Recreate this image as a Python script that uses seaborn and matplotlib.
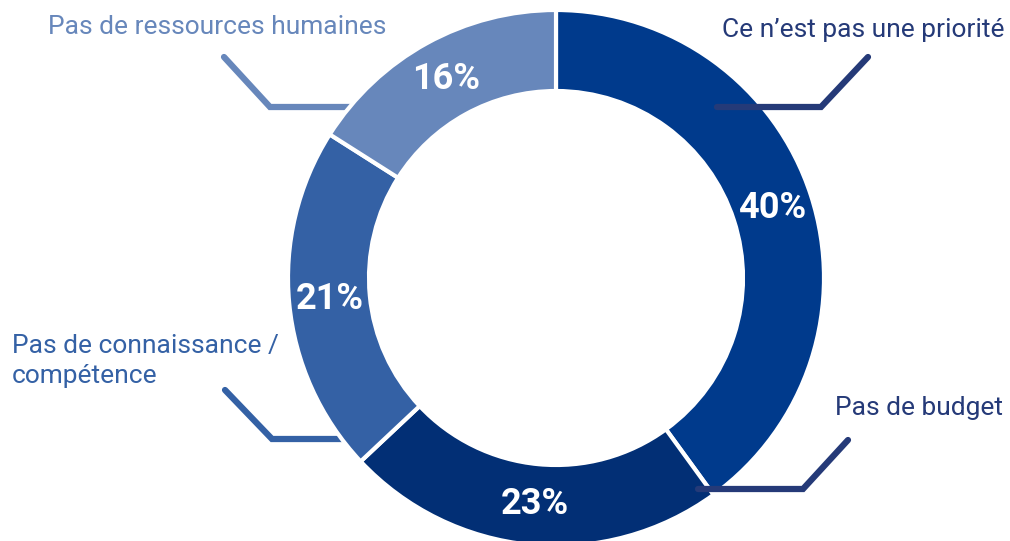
import matplotlib
matplotlib.use("Agg")
import matplotlib.pyplot as plt
import numpy as np
import seaborn as sns

# Survey answers: why the topic is not addressed
categories = ["Ce n’est pas une priorité", "Pas de budget",
              "Pas de connaissance / compétence", "Pas de ressources humaines"]
shares = [40, 23, 21, 16]
slice_colors = ["#003A8C", "#022F75", "#3461A5", "#6787BB"]
label_colors = ["#253A78", "#253A78", "#3461A5", "#6787BB"]

sns.set_theme(style="white")
plt.rcParams["font.family"] = ["Roboto", "DejaVu Sans"]

W, H = 1010, 541
fig = plt.figure(figsize=(W / 100, H / 100), dpi=100)
ax = fig.add_axes([0, 0, 1, 1])


def px(x, y):
    """Pixel position (origin top-left) to data coordinates."""
    return x, H - y


cx, cy = px(556, 278)
R, ring = 268, 81

wedges, _ = ax.pie(
    shares, colors=slice_colors, startangle=90, counterclock=False,
    radius=R, center=(cx, cy),
    wedgeprops=dict(width=ring, edgecolor="white", linewidth=3),
)

# Percentage inside each ring segment
r_mid = R - ring / 2
for w, v in zip(wedges, shares):
    mid = np.deg2rad((w.theta1 + w.theta2) / 2)
    ax.text(cx + r_mid * np.cos(mid), cy + r_mid * np.sin(mid), f"{v}%",
            ha="center", va="center", color="white",
            fontsize=26, fontweight="bold", zorder=4)

# Category names with their leader lines
callouts = [
    dict(lines=[categories[0]], xy=(1004, 37), ha="right", step=0,
         path=[(717, 107), (821, 107), (868, 57)], z=3),
    dict(lines=[categories[1]], xy=(1003, 415), ha="right", step=0,
         path=[(698, 489), (803, 489), (848, 440)], z=3),
    dict(lines=["Pas de connaissance /", "compétence"], xy=(12, 353), ha="left",
         step=30, path=[(225, 390), (272, 439), (350, 439)], z=0.5),
    dict(lines=[categories[3]], xy=(48, 34), ha="left", step=0,
         path=[(224, 57), (270, 107), (362, 107)], z=0.5),
]

for c, col in zip(callouts, label_colors):
    x0, y0 = c["xy"]
    for i, line in enumerate(c["lines"]):
        tx, ty = px(x0, y0 + i * c["step"])
        ax.text(tx, ty, line, ha=c["ha"], va="baseline", color=col, fontsize=19)
    pts = [px(x, y) for x, y in c["path"]]
    ax.plot([p[0] for p in pts], [p[1] for p in pts], color=col, lw=4.5,
            solid_capstyle="round", solid_joinstyle="miter", zorder=c["z"])

ax.set_xlim(0, W)
ax.set_ylim(0, H)
ax.set_aspect("equal")
ax.axis("off")

fig.savefig("out.png", dpi=100)
